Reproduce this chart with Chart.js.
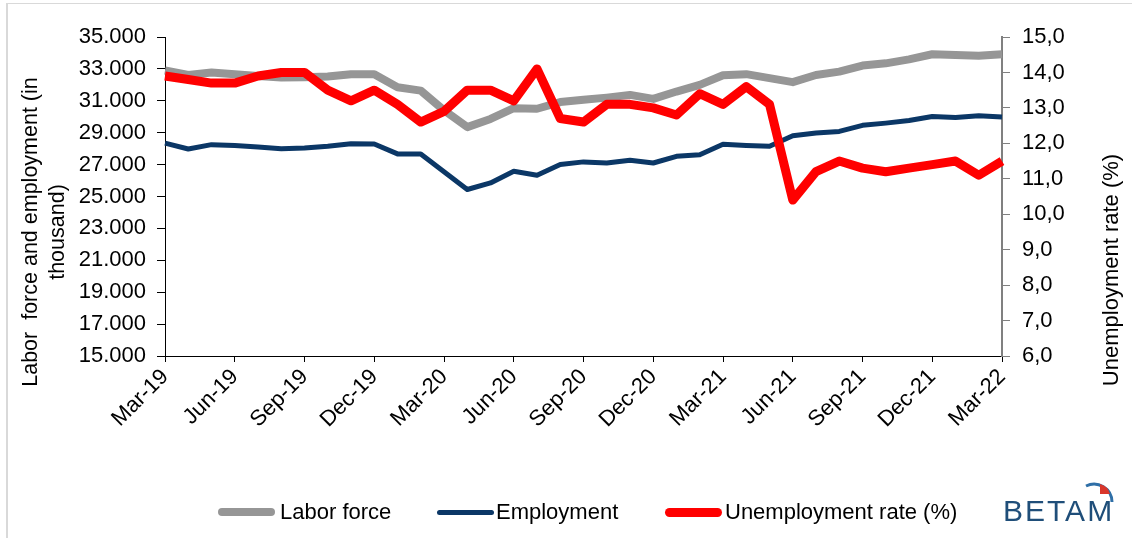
<!DOCTYPE html>
<html>
<head>
<meta charset="utf-8">
<script src="https://cdn.jsdelivr.net/npm/chart.js@4.4.1/dist/chart.umd.min.js"></script>
<style>
  body { margin: 0; background: #fff; font-family: "Liberation Sans", Arial, sans-serif; }
  #wrap { position: relative; width: 1132px; height: 538px; overflow: hidden; }
  #frame { position: absolute; left: 6px; top: 3px; width: 1140px; height: 560px;
           border-left: 2px solid #d9d9d9; border-top: 1px solid #d9d9d9; }
  #chart { position: absolute; left: 0; top: 0; }
  .leg { position: absolute; top: 498px; height: 28px; display: flex; align-items: center; font-size: 22px; color: #000; }
  .sw { display: inline-block; width: 57px; border-radius: 5px; margin-right: 4px; }
  #logo { position: absolute; left: 1003px; top: 494px; font-size: 30px; letter-spacing: 2px; color: #1f4e79; }
</style>
</head>
<body>
<div id="wrap">
  <div id="frame"></div>
  <canvas id="chart" width="1132" height="538"></canvas>
  <div id="legend"></div>
  <div id="logo">BETAM</div>
  <svg style="position:absolute;left:1080px;top:474px" width="40" height="40">
    <path d="M6 12 A18 18 0 0 1 32 28" fill="none" stroke="#2f6fa7" stroke-width="3"/>
    <path d="M20 10 A14 14 0 0 1 30 20 L20 20 Z" fill="#d9362b"/>
  </svg>
</div>
<script>
const months = ['Mar-19','Apr-19','May-19','Jun-19','Jul-19','Aug-19','Sep-19','Oct-19','Nov-19','Dec-19',
  'Jan-20','Feb-20','Mar-20','Apr-20','May-20','Jun-20','Jul-20','Aug-20','Sep-20','Oct-20','Nov-20','Dec-20',
  'Jan-21','Feb-21','Mar-21','Apr-21','May-21','Jun-21','Jul-21','Aug-21','Sep-21','Oct-21','Nov-21','Dec-21',
  'Jan-22','Feb-22','Mar-22'];

const laborForce = [32900, 32620, 32770, 32670, 32560, 32460, 32480, 32520, 32670, 32670,
  31850, 31640, 30400, 29350, 29860, 30540, 30500, 30920, 31060, 31200, 31370, 31120,
  31580, 32000, 32600, 32670, 32420, 32170, 32620, 32830, 33210, 33350, 33600, 33920,
  33870, 33830, 33920];

const employment = [28350, 27980, 28250, 28190, 28100, 28000, 28040, 28150, 28310, 28290,
  27670, 27670, 26550, 25440, 25850, 26580, 26330, 27000, 27170, 27100, 27270, 27100,
  27520, 27620, 28280, 28200, 28150, 28810, 28980, 29080, 29460, 29600, 29770, 30020,
  29960, 30060, 29980];

const unemploymentRate = [13.9, 13.8, 13.7, 13.7, 13.9, 14.0, 14.0, 13.5, 13.2, 13.5,
  13.1, 12.6, 12.9, 13.5, 13.5, 13.2, 14.1, 12.7, 12.6, 13.1, 13.1, 13.0,
  12.8, 13.4, 13.1, 13.6, 13.1, 10.4, 11.2, 11.5, 11.3, 11.2, 11.3, 11.4,
  11.5, 11.1, 11.5];

const seriesNames = ['Labor force', 'Employment', 'Unemployment rate (%)'];
const seriesColors = ['#969696', '#0b3766', '#ff0000'];
const seriesWidths = [8, 5, 9];

const leftTitle = ['Labor  force and employment (in', 'thousand)'];
const rightTitle = 'Unemployment rate (%)';

const tickFont = { family: '"Liberation Sans", Arial, sans-serif', size: 22 };

function thousands(v) {
  return String(v).replace(/\B(?=(\d{3})+(?!\d))/g, '.');
}

// axis titles drawn by hand so the right one reads bottom to top like the original
const titlesPlugin = {
  id: 'titles',
  afterDraw(chart) {
    const ctx = chart.ctx;
    ctx.save();
    ctx.fillStyle = '#000';
    ctx.font = '21.5px "Liberation Sans", Arial, sans-serif';
    ctx.textAlign = 'center';
    ctx.textBaseline = 'middle';
    ctx.translate(31, 232);
    ctx.rotate(-Math.PI / 2);
    ctx.fillText(leftTitle[0], 0, 0);
    ctx.fillText(leftTitle[1], 0, 27);
    ctx.restore();

    ctx.save();
    ctx.fillStyle = '#000';
    ctx.font = '22px "Liberation Sans", Arial, sans-serif';
    ctx.textAlign = 'center';
    ctx.textBaseline = 'middle';
    ctx.translate(1112, 270);
    ctx.rotate(-Math.PI / 2);
    ctx.fillText(rightTitle, 0, 0);
    ctx.restore();
  }
};

const datasets = [laborForce, employment, unemploymentRate].map((values, i) => ({
  label: seriesNames[i],
  data: values,
  borderColor: seriesColors[i],
  backgroundColor: seriesColors[i],
  borderWidth: seriesWidths[i],
  pointRadius: 0,
  tension: 0,
  borderJoinStyle: 'round',
  yAxisID: i === 2 ? 'y2' : 'y',
  order: 3 - i
}));

new Chart(document.getElementById('chart').getContext('2d'), {
  type: 'line',
  data: { labels: months, datasets: datasets },
  plugins: [titlesPlugin],
  options: {
    responsive: false,
    animation: false,
    layout: { padding: { top: 37, left: 0, right: 0, bottom: 0 } },
    plugins: { legend: { display: false }, tooltip: { enabled: false } },
    scales: {
      x: {
        grid: { drawOnChartArea: false, tickLength: 6, color: '#000' },
        border: { color: '#000', width: 1 },
        ticks: { autoSkip: false, maxRotation: 45, minRotation: 45, font: tickFont, color: '#000', padding: 2 },
        afterBuildTicks: s => { s.ticks = s.ticks.filter(t => t.value % 3 === 0); },
        afterFit: s => { s.height = 182; }
      },
      y: {
        position: 'left',
        min: 15000,
        max: 35000,
        grid: { drawOnChartArea: false, tickLength: 8, color: '#000' },
        border: { color: '#000', width: 1 },
        ticks: { stepSize: 2000, font: tickFont, color: '#000', padding: 11, callback: v => thousands(v) },
        afterFit: s => { s.width = 165; }
      },
      y2: {
        position: 'right',
        min: 6,
        max: 15,
        grid: { drawOnChartArea: false, tickLength: 8, color: '#808080' },
        border: { color: '#808080', width: 2 },
        ticks: { stepSize: 1, font: tickFont, color: '#000', padding: 12, callback: v => v.toFixed(1).replace('.', ',') },
        afterFit: s => { s.width = 130; }
      }
    }
  }
});

// legend
const legendPos = [[218, 280], [437, 496], [665, 725]];
const legend = document.getElementById('legend');
seriesNames.forEach((name, i) => {
  const item = document.createElement('div');
  item.className = 'leg';
  item.style.left = legendPos[i][0] + 'px';
  const sw = document.createElement('span');
  sw.className = 'sw';
  sw.style.background = seriesColors[i];
  sw.style.height = seriesWidths[i] + 'px';
  sw.style.marginRight = (legendPos[i][1] - legendPos[i][0] - 57) + 'px';
  item.appendChild(sw);
  item.appendChild(document.createTextNode(name));
  legend.appendChild(item);
});
</script>
</body>
</html>
